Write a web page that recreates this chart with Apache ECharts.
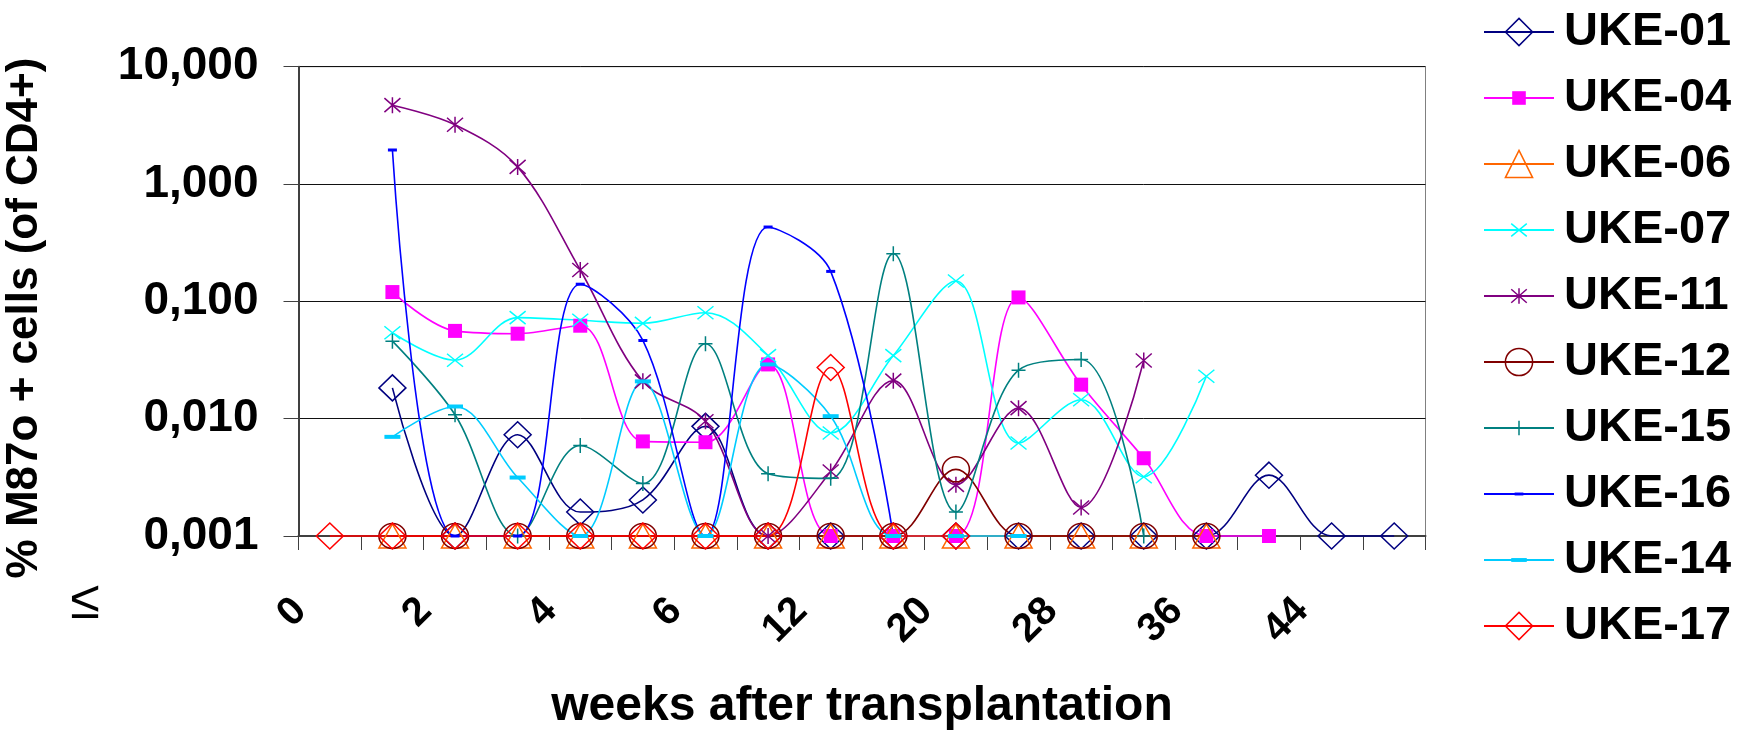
<!DOCTYPE html>
<html>
<head>
<meta charset="utf-8">
<script src="https://cdn.jsdelivr.net/npm/echarts@6/dist/echarts.min.js"></script>
<style>
html,body{margin:0;padding:0;background:#ffffff;}
#chart{width:1738px;height:735px;}
</style>
</head>
<body>
<div id="chart"></div>
<script>
// ---- data ----
const categories = ['0','1','2','3','4','5','6','8','12','16','20','24','28','32','36','40','44','48'];
const yTickLabels = ['0,001','0,010','0,100','1,000','10,000'];
const seriesNames = ['UKE-01','UKE-04','UKE-06','UKE-07','UKE-11','UKE-12','UKE-15','UKE-16','UKE-14','UKE-17'];

const uke01 = [null, 0.0183, 0.001, 0.0073, 0.0016, 0.00203, 0.0086, 0.001, 0.001, 0.001, 0.001, 0.001, 0.001, 0.001, 0.001, 0.0033, 0.001, 0.001];
const uke04 = [null, 0.12, 0.056, 0.053, 0.062, 0.0064, 0.0063, 0.029, 0.001, 0.001, 0.001, 0.108, 0.0195, 0.0046, 0.001, 0.001, null, null];
const uke06 = [null, 0.001, 0.001, 0.001, 0.001, 0.001, 0.001, 0.001, 0.001, 0.001, 0.001, 0.001, 0.001, 0.001, 0.001, null, null, null];
const uke07 = [null, 0.054, 0.0315, 0.0726, 0.069, 0.065, 0.08, 0.0345, 0.00755, 0.0345, 0.149, 0.0062, 0.0145, 0.0032, 0.023, null, null, null];
const uke11 = [null, 4.7, 3.2, 1.4, 0.185, 0.0208, 0.0095, 0.001, 0.00355, 0.0211, 0.00273, 0.0123, 0.00175, 0.0313, null, null, null, null];
const uke12 = [null, 0.001, 0.001, 0.001, 0.001, 0.001, 0.001, 0.001, 0.001, 0.001, 0.0037, 0.001, 0.001, 0.001, 0.001, null, null, null];
const uke15 = [null, 0.0458, 0.0108, 0.001, 0.0059, 0.0028, 0.0435, 0.0034, 0.0031, 0.255, 0.0016, 0.0259, 0.0319, 0.001, null, null, null, null];
const uke16 = [null, 1.95, 0.001, 0.001, 0.14, 0.0464, 0.001, 0.43, 0.18, 0.001, null, null, null, null, null, null, null, null];
const uke14 = [null, 0.007, 0.0127, 0.00315, 0.001, 0.0208, 0.001, 0.029, 0.0105, 0.001, 0.001, 0.001, null, null, null, null, null, null];
const uke17 = [0.001, 0.001, 0.001, 0.001, 0.001, 0.001, 0.001, 0.001, 0.0273, 0.001, 0.001, null, null, null, null, null, null, null];

const seriesValues = [uke01, uke04, uke06, uke07, uke11, uke12, uke15, uke16, uke14, uke17];

// ---- styles ----
const FONT = "'Liberation Sans', Arial, sans-serif";
const P_SQUARE = 'path://M0,0M28,28M7,7h14v14h-14z';
const P_X = 'path://M0,0M28,28M6,7.5L22,20.5M6,20.5L22,7.5';
const P_AST = 'path://M0,0M28,28M6,7L22,21M6,21L22,7M14,6V22';
const P_PLUS = 'path://M0,0M28,28M7,14H21M14,6.5V21.5';
const P_DASH16 = 'path://M0,0M28,28M9.5,12.5h9v3h-9z';
const P_DASH14 = 'path://M0,0M28,28M6,12h16v4h-16z';

const styles = [
  {color:'#000080', symbol:'diamond',  size:[27,26], kind:'hollow'},
  {color:'#FF00FF', symbol:P_SQUARE,   size:28,      kind:'fill'},
  {color:'#FF6600', symbol:'triangle', size:[27,24], kind:'hollow'},
  {color:'#00FFFF', symbol:P_X,        size:28,      kind:'stroke'},
  {color:'#800080', symbol:P_AST,      size:28,      kind:'stroke'},
  {color:'#800000', symbol:'circle',   size:[27,25], kind:'hollow'},
  {color:'#008080', symbol:P_PLUS,     size:28,      kind:'stroke'},
  {color:'#0000FF', symbol:P_DASH16,   size:28,      kind:'fill'},
  {color:'#00CCFF', symbol:P_DASH14,   size:28,      kind:'fill'},
  {color:'#FF0000', symbol:'diamond',  size:[27,26], kind:'hollow'}
];

const series = seriesNames.map((name, i) => {
  const st = styles[i];
  const itemStyle = st.kind === 'fill'
    ? {color: st.color, borderWidth: 0}
    : {color: 'rgba(255,255,255,0)', borderColor: st.color, borderWidth: 1.5};
  return {
    name: name,
    type: 'line',
    data: seriesValues[i],
    smooth: 0.35,
    connectNulls: false,
    clip: false,
    showAllSymbol: true,
    symbol: st.symbol,
    symbolSize: st.size,
    lineStyle: {color: st.color, width: 1.6},
    itemStyle: itemStyle,
    emphasis: {disabled: true},
    animation: false
  };
});

const chart = echarts.init(document.getElementById('chart'), null, {renderer: 'canvas'});
chart.setOption({
  animation: false,
  backgroundColor: '#ffffff',
  grid: {
    left: 298.5, right: 312.5, top: 66.7, bottom: 199,
    show: true, borderColor: '#808080', borderWidth: 1,
    containLabel: false, outerBoundsMode: 'none'
  },
  legend: {
    orient: 'vertical',
    left: 1478, top: 2,
    itemWidth: 70, itemHeight: 34, itemGap: 16,
    data: seriesNames,
    itemStyle: {borderWidth: 1.5},
    textStyle: {fontFamily: FONT, fontWeight: 'bold', fontSize: 47, color: '#000', lineHeight: 50, padding: [0,0,0,5]},
    selectedMode: false
  },
  xAxis: {
    type: 'category',
    data: categories,
    boundaryGap: true,
    axisLine: {show: true, lineStyle: {color: '#404040', width: 2}},
    axisTick: {show: true, interval: 0, length: 14, lineStyle: {color: '#404040', width: 1}},
    axisLabel: {
      interval: 1, rotate: 45, margin: 39, padding: [0, 42, 0, 0],
      fontFamily: FONT, fontWeight: 'bold', fontSize: 40, color: '#000'
    },
    splitLine: {show: false},
    name: 'weeks after transplantation',
    nameLocation: 'middle',
    nameGap: 147,
    nameTextStyle: {fontFamily: FONT, fontWeight: 'bold', fontSize: 48, color: '#000'}
  },
  yAxis: {
    type: 'log',
    logBase: 10,
    min: 0.001,
    max: 10,
    axisLine: {show: true, lineStyle: {color: '#404040', width: 2}},
    axisTick: {show: true, length: 15, lineStyle: {color: '#404040', width: 1}},
    axisLabel: {
      margin: 40,
      fontFamily: FONT, fontWeight: 'bold', fontSize: 46, color: '#000',
      formatter: function (v) {
        const idx = Math.round(Math.log10(v)) + 3;
        return yTickLabels[idx] !== undefined ? yTickLabels[idx] : '';
      }
    },
    splitLine: {show: true, lineStyle: {color: '#111', width: 1}}
  },
  graphic: [
    {
      type: 'text', x: 25, y: 318, rotation: Math.PI / 2,
      style: {text: '% M87o + cells (of CD4+)', fontFamily: FONT, fontWeight: 'bold', fontSize: 44, fill: '#000', align: 'center', verticalAlign: 'middle'}
    },
    {
      type: 'text', x: 85, y: 603,
      style: {text: '≤', fontFamily: FONT, fontWeight: 'normal', fontSize: 54, fill: '#000', align: 'center', verticalAlign: 'middle'}
    }
  ],
  series: series
});
</script>
</body>
</html>
